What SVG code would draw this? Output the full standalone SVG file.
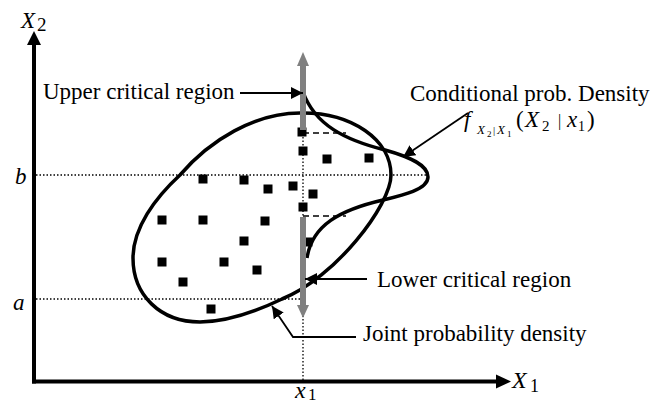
<svg xmlns="http://www.w3.org/2000/svg" width="667" height="403" viewBox="0 0 667 403">
<defs>
<style>
.t{font-family:"Liberation Serif","Times New Roman",serif;font-size:23px;fill:#000}
.i{font-style:italic}
.curve{fill:none;stroke:#000;stroke-width:3.5}
.dot{stroke:#000;stroke-width:1.3;stroke-dasharray:1.5,2;fill:none}
.dash{stroke:#000;stroke-width:1.5;stroke-dasharray:6,4;fill:none}
.pt{fill:#000}
.gray{fill:#808080}
.lead{stroke:#000;stroke-width:1.8;fill:none}
</style>
<marker id="ah" viewBox="0 0 12 12" refX="12" refY="6" markerWidth="12" markerHeight="12" markerUnits="userSpaceOnUse" orient="auto">
<path d="M0,0 L12,6 L0,12 Z" fill="#000"/>
</marker>
</defs>
<rect width="667" height="403" fill="#fff"/>

<g id="guides">
<line class="dot" x1="36" y1="175" x2="428" y2="175"/>
<line class="dot" x1="36" y1="299" x2="303" y2="299"/>
<line class="dot" x1="303" y1="137" x2="303" y2="380"/>
<line class="dash" x1="303" y1="133" x2="346" y2="133"/>
<line class="dash" x1="303" y1="216" x2="346" y2="216"/>
</g>

<g id="joint-density">
<path class="curve" d="M300,113 C352,112 391,140 391,175 C391,205 335,278 282,299 C255,312 225,322 200,322 C160,322 133,295 133,258 C133,228 155,198 180,175 C210,140 255,113 300,113 Z"/>
</g>

<g id="conditional-density">
<path class="curve" d="M303,92 C315,125 345,140 385,150 C410,157 428,165 428,177 C428,190 400,196 383,200 C340,210 312,225 307,258"/>
</g>

<g id="points">
<rect class="pt" x="198.5" y="174.5" width="9" height="9"/>
<rect class="pt" x="239.5" y="175.5" width="9" height="9"/>
<rect class="pt" x="263.5" y="184.5" width="9" height="9"/>
<rect class="pt" x="288.5" y="181.5" width="9" height="9"/>
<rect class="pt" x="308.5" y="189.5" width="9" height="9"/>
<rect class="pt" x="298.5" y="146.5" width="9" height="9"/>
<rect class="pt" x="297.5" y="127.5" width="9" height="9"/>
<rect class="pt" x="298.5" y="202.5" width="9" height="9"/>
<rect class="pt" x="322.5" y="154.5" width="9" height="9"/>
<rect class="pt" x="364.5" y="153.5" width="9" height="9"/>
<rect class="pt" x="157.5" y="215.5" width="9" height="9"/>
<rect class="pt" x="198.5" y="215.5" width="9" height="9"/>
<rect class="pt" x="260.5" y="216.5" width="9" height="9"/>
<rect class="pt" x="239.5" y="236.5" width="9" height="9"/>
<rect class="pt" x="157.5" y="257.5" width="9" height="9"/>
<rect class="pt" x="219.5" y="257.5" width="9" height="9"/>
<rect class="pt" x="252.5" y="265.5" width="9" height="9"/>
<rect class="pt" x="178.5" y="277.5" width="9" height="9"/>
<rect class="pt" x="206.5" y="304.5" width="9" height="9"/>
<rect class="pt" x="303.5" y="237.5" width="9" height="9"/>
</g>

<g id="upper-critical-region">
<rect class="gray" x="300" y="64" width="6" height="66"/>
<polygon class="gray" points="297,66 309,66 303,52"/>
</g>
<g id="lower-critical-region">
<rect class="gray" x="300" y="217" width="6" height="90"/>
<polygon class="gray" points="297,305 309,305 303,318"/>
</g>

<g id="axes">
<line x1="34" y1="383.5" x2="34" y2="43" stroke="#000" stroke-width="4"/>
<polygon points="27,45 41,45 34,31" fill="#000"/>
<line x1="32" y1="381.5" x2="497" y2="381.5" stroke="#000" stroke-width="4"/>
<polygon points="496,374.5 496,388.5 511,381.5" fill="#000"/>
</g>

<g id="connectors">
<line class="lead" x1="240" y1="93" x2="303" y2="93" marker-end="url(#ah)"/>
<line class="lead" x1="468" y1="113" x2="403" y2="157" marker-end="url(#ah)"/>
<line class="lead" x1="367" y1="279" x2="305" y2="279" marker-end="url(#ah)"/>
<polyline class="lead" points="356,337 293,337 272,306" marker-end="url(#ah)"/>
</g>

<g id="labels">
<text class="t" y="28"><tspan class="i" x="21">X</tspan><tspan x="37" y="31" font-size="19">2</tspan></text>
<text class="t" y="388"><tspan class="i" x="512" font-size="24">X</tspan><tspan x="530" y="392" font-size="18">1</tspan></text>
<text class="t" y="398"><tspan class="i" x="295" font-size="24">x</tspan><tspan x="308" y="400" font-size="17">1</tspan></text>
<text class="t i" x="15" y="184" font-size="25">b</text>
<text class="t i" x="13" y="310" font-size="25">a</text>
<text class="t" x="43" y="99">Upper critical region</text>
<text class="t" x="410" y="101">Conditional prob. Density</text>
<text class="t" x="377" y="287">Lower critical region</text>
<text class="t" x="363" y="341">Joint probability density</text>
<text class="t" y="127"><tspan class="i" x="464">f</tspan><tspan class="i" x="477" y="134" font-size="13">X</tspan><tspan x="487" y="137" font-size="9">2</tspan><tspan x="493" y="134" font-size="11">|</tspan><tspan class="i" x="497" y="134" font-size="13">X</tspan><tspan x="507" y="137" font-size="9">1</tspan><tspan x="516" y="127">(</tspan><tspan class="i" x="525">X</tspan><tspan x="542" y="131" font-size="15">2</tspan><tspan x="558" y="126" font-size="16">|</tspan><tspan class="i" x="567" y="127">x</tspan><tspan x="578" y="131" font-size="14">1</tspan><tspan x="587" y="127">)</tspan></text>
</g>
</svg>
